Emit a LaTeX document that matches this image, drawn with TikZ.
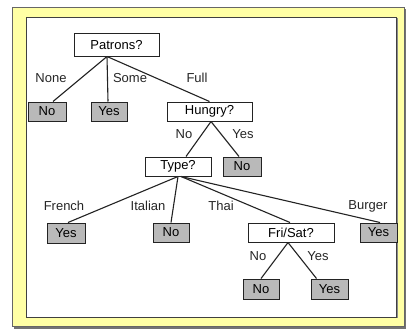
\documentclass[tikz,border=0pt]{standalone}
\usepackage{fontspec}
\setmainfont{Liberation Sans}
\begin{document}
\definecolor{panelyellow}{RGB}{255,255,165}
\definecolor{leafgray}{RGB}{185,185,185}
\definecolor{edgeblack}{RGB}{35,35,35}
\begin{tikzpicture}[x=1pt,y=-1pt,
  every node/.style={font=\fontsize{13}{15}\selectfont, inner sep=0pt},
  test/.style={draw=edgeblack, line width=1pt, fill=white, minimum height=19pt},
  leaf/.style={draw=edgeblack, line width=1pt, fill=leafgray, minimum height=19pt},
  branch/.style={text=black!85},
  edge/.style={draw=edgeblack, line width=1.1pt}]
\useasboundingbox (0,0) rectangle (406,329);
% panel frame with its drop shadow
\fill[black!55] (14,9) rectangle (406,328.5);
\draw[fill=panelyellow, draw=black!60, line width=0.8pt] (12,7) rectangle (404,326);
\fill[black!45] (27.5,18) rectangle (397.5,318);
\draw[fill=white, draw=black!75, line width=0.8pt] (26.5,17) rectangle (396.5,317);

% tree nodes
\node[test, minimum width=85pt, minimum height=22pt] (patrons) at (116.5,45) {Patrons?};
\node[leaf, minimum width=38pt] (none) at (47,111.5) {No};
\node[leaf, minimum width=36pt] (some) at (109,111.5) {Yes};
\node[test, minimum width=85pt] (hungry) at (209.5,111.5) {Hungry?};
\node[test, minimum width=66pt] (type) at (178,166.5) {Type?};
\node[leaf, minimum width=38pt] (hyes) at (242,166.5) {No};
\node[leaf, minimum width=38pt, minimum height=20pt] (french) at (66,233) {Yes};
\node[leaf, minimum width=36pt] (italian) at (171,232.5) {No};
\node[test, minimum width=86pt] (frisat) at (291,232.5) {Fri/Sat?};
\node[leaf, minimum width=37pt] (burger) at (378.5,232.5) {Yes};
\node[leaf, minimum width=36pt, minimum height=20pt] (fno) at (261,289) {No};
\node[leaf, minimum width=37pt, minimum height=20pt] (fyes) at (329.5,289) {Yes};

% branch points
\coordinate (pb) at ([xshift=-9.5pt]patrons.south);
\coordinate (hb) at ([xshift=1.5pt]hungry.south);
\coordinate (tb) at (type.south);
\coordinate (tb2) at ([xshift=3pt]type.south);
\coordinate (fb) at ([xshift=-3pt]frisat.south);

% connectors
\draw[edge] (pb) -- ([xshift=6pt]none.north);
\draw[edge] (pb) -- ([xshift=-1pt]some.north);
\draw[edge] (pb) -- (hungry.north);
\draw[edge] (hb) -- ([xshift=8pt]type.north);
\draw[edge] (hb) -- ([xshift=-3pt]hyes.north);
\draw[edge] (tb) -- ([xshift=2pt]french.north);
\draw[edge] (tb) -- (italian.north);
\draw[edge] (tb2) -- ([xshift=-1pt]frisat.north);
\draw[edge] (tb2) -- ([xshift=1.5pt]burger.north);
\draw[edge] (fb) -- (fno.north);
\draw[edge] (fb) -- ([xshift=-13pt]fyes.north);

% branch labels
\node[branch] (lnone) at (51,78) {None};
\node[branch] (lsome) at (130,78) {Some};
\node[branch] (lfull) at (197,78) {Full};
\node[branch] (lhno) at (184,134) {No};
\node[branch] (lhyes) at (243,134) {Yes};
\node[branch] (lfrench) at (64,206) {French};
\node[branch] (litalian) at (148,206) {Italian};
\node[branch] (lthai) at (221,206) {Thai};
\node[branch] (lburger) at (368,206) {Burger};
\node[branch] (lfno) at (258,256) {No};
\node[branch] (lfyes) at (318,256) {Yes};
\end{tikzpicture}
\end{document}
